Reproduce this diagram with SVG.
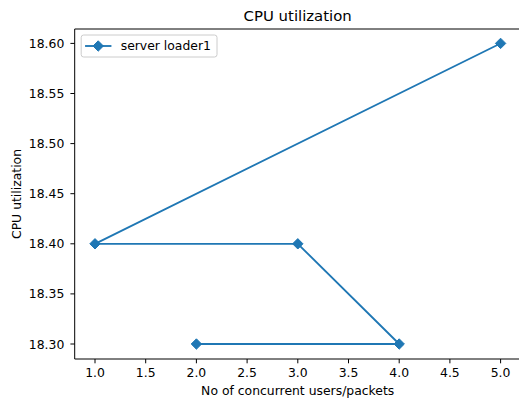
<svg xmlns="http://www.w3.org/2000/svg" width="519" height="400" viewBox="0 0 519 400">
  <style>
    text { font-family: "DejaVu Sans", "Liberation Sans", sans-serif; fill: #000; }
    .tick { font-size: 12.4px; }
    .ytick { text-anchor: end; }
    .xtick { text-anchor: middle; }
    .lab { font-size: 12.4px; text-anchor: middle; }
    .title { font-size: 14.9px; text-anchor: middle; }
    .spine { stroke: #000; stroke-width: 1; fill: none; }
    .tk { stroke: #000; stroke-width: 1; }
    .series { stroke: #1f77b4; stroke-width: 1.85; fill: none; stroke-linejoin: round; stroke-linecap: square; }
  </style>
  <defs>
    <path id="dmd" d="M0,-5.2 L5.2,0 L0,5.2 L-5.2,0 Z" fill="#1f77b4" stroke="#1f77b4" stroke-width="1"/>
  </defs>
  <rect width="519" height="400" fill="#fff"/>

  <!-- axes frame -->
  <g id="axes">
    <path class="spine" d="M74.7,359 L74.7,29 L521,29 M74.7,359 L521,359"/>
  </g>

  <!-- x ticks -->
  <g id="xticks">
    <path class="tk" d="M95,359v4.3 M145.7,359v4.3 M196.4,359v4.3 M247.1,359v4.3 M297.8,359v4.3 M348.5,359v4.3 M399.2,359v4.3 M449.9,359v4.3 M500.6,359v4.3"/>
    <text class="tick xtick" x="95" y="377.3">1.0</text>
    <text class="tick xtick" x="145.7" y="377.3">1.5</text>
    <text class="tick xtick" x="196.4" y="377.3">2.0</text>
    <text class="tick xtick" x="247.1" y="377.3">2.5</text>
    <text class="tick xtick" x="297.8" y="377.3">3.0</text>
    <text class="tick xtick" x="348.5" y="377.3">3.5</text>
    <text class="tick xtick" x="399.2" y="377.3">4.0</text>
    <text class="tick xtick" x="449.9" y="377.3">4.5</text>
    <text class="tick xtick" x="500.6" y="377.3">5.0</text>
  </g>

  <!-- y ticks -->
  <g id="yticks">
    <path class="tk" d="M70.4,43.4h4.3 M70.4,93.5h4.3 M70.4,143.6h4.3 M70.4,193.7h4.3 M70.4,243.8h4.3 M70.4,293.9h4.3 M70.4,344h4.3"/>
    <text class="tick ytick" x="64.3" y="47.9">18.60</text>
    <text class="tick ytick" x="64.3" y="98">18.55</text>
    <text class="tick ytick" x="64.3" y="148.1">18.50</text>
    <text class="tick ytick" x="64.3" y="198.2">18.45</text>
    <text class="tick ytick" x="64.3" y="248.3">18.40</text>
    <text class="tick ytick" x="64.3" y="298.4">18.35</text>
    <text class="tick ytick" x="64.3" y="348.5">18.30</text>
  </g>

  <!-- labels and title -->
  <text class="title" x="297.7" y="21">CPU utilization</text>
  <text class="lab" x="297.7" y="394.5">No of concurrent users/packets</text>
  <text class="lab" transform="translate(21,194) rotate(-90)">CPU utilization</text>

  <!-- data series -->
  <g id="connectors">
    <polyline class="series" points="196.4,344 399.2,344 297.8,243.8 95,243.8 500.6,43.4"/>
  </g>
  <g id="markers">
    <use href="#dmd" x="196.4" y="344"/>
    <use href="#dmd" x="399.2" y="344"/>
    <use href="#dmd" x="297.8" y="243.8"/>
    <use href="#dmd" x="95" y="243.8"/>
    <use href="#dmd" x="500.6" y="43.4"/>
  </g>

  <!-- legend -->
  <g id="legend">
    <rect x="81.2" y="35" width="135.8" height="22" rx="2.5" fill="#fff" fill-opacity="0.8" stroke="#cccccc" stroke-width="1"/>
    <line class="series" x1="86" y1="46" x2="110.5" y2="46"/>
    <use href="#dmd" x="98.2" y="46"/>
    <text class="tick" x="120.7" y="50.4">server loader1</text>
  </g>
</svg>
